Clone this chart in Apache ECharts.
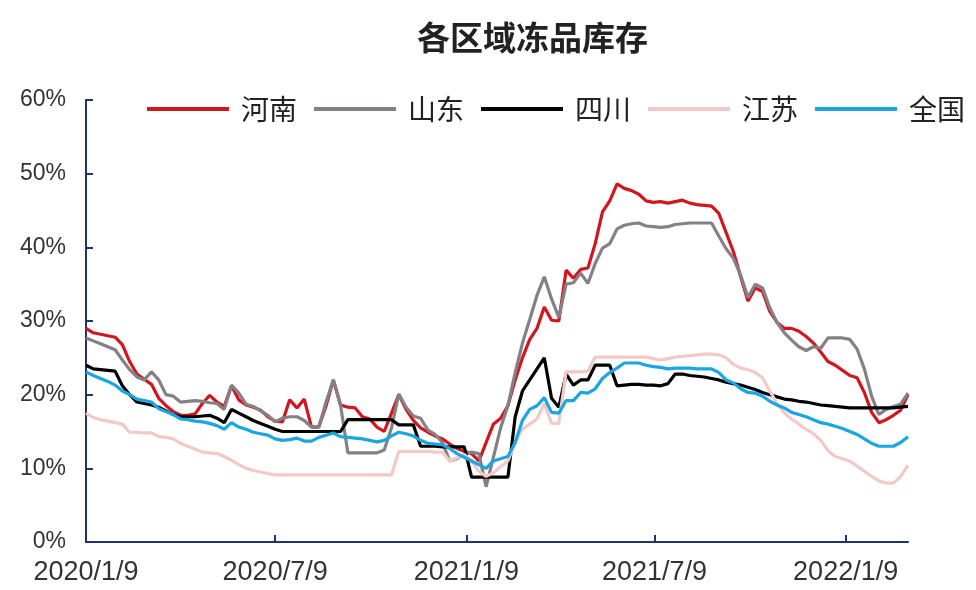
<!DOCTYPE html>
<html><head><meta charset="utf-8">
<script src="https://cdn.jsdelivr.net/npm/echarts@6/dist/echarts.min.js"></script>
<style>html,body{margin:0;padding:0;background:#fff}#c{width:976px;height:590px}</style>
</head><body><div id="c"></div>
<script>
const seriesNames = ['河南','山东','四川','江苏','全国'];
const startDate = '2020-01-09';
const tickLabels = ['2020/1/9','2020/7/9','2021/1/9','2021/7/9','2022/1/9'];
const yTicks = [0,10,20,30,40,50,60];

const henan = [29.0,28.4,28.2,28.0,27.8,26.8,24.5,22.8,22.1,21.4, 19.5,18.5,17.7,17.2,17.2,17.4,18.8,19.9,19.0,18.4, 21.2,19.3,18.6,18.3,17.9,17.0,16.4,16.3,19.3,18.2, 19.4,15.6,15.6,18.5,22.0,18.6,18.3,18.2,17.0,16.7, 15.6,15.0,17.5,20.0,18.0,16.5,15.5,14.9,14.4,14.0, 13.3,12.7,12.3,12.0,11.0,13.5,16.0,16.8,18.5,22.0, 25.0,27.5,29.0,31.9,30.1,30.0,36.9,35.8,37.0,37.2, 40.5,44.8,46.3,48.6,48.0,47.7,47.2,46.3,46.1,46.2, 46.0,46.2,46.4,46.0,45.8,45.7,45.6,44.6,42.0,39.4, 36.0,32.7,34.5,34.0,31.3,29.8,29.0,29.0,28.6,27.9, 27.0,25.8,24.5,24.0,23.3,22.6,22.3,20.3,17.6,16.2, 16.6,17.2,17.9,20.0];
const shandong = [27.7,27.3,26.9,26.5,26.1,24.7,23.4,22.4,22.0,23.1, 22.0,20.0,19.8,19.0,19.1,19.2,19.1,18.9,18.8,18.0, 21.3,20.2,18.7,18.4,17.8,17.2,16.3,16.8,17.0,17.0, 16.5,15.6,15.6,19.0,22.0,18.5,12.1,12.1,12.1,12.1, 12.1,12.5,15.5,20.1,18.3,17.1,16.8,15.2,14.6,13.5, 11.0,11.3,11.9,12.2,12.0,7.5,11.5,15.5,18.5,23.0, 27.0,30.2,33.5,36.0,33.0,30.5,35.0,35.2,36.5,35.1, 37.8,39.9,40.5,42.5,43.0,43.2,43.3,42.9,42.8,42.7, 42.8,43.1,43.2,43.3,43.3,43.3,43.3,41.5,39.8,38.5, 36.2,33.2,35.0,34.5,31.8,29.8,28.4,27.4,26.5,26.0, 26.5,26.3,27.7,27.7,27.7,27.5,26.2,23.5,19.8,17.3, 18.0,18.4,18.7,20.2];
const sichuan = [24.0,23.5,23.4,23.3,23.2,21.2,20.0,19.0,18.8,18.6, 18.3,17.8,17.3,17.0,17.0,17.0,17.1,17.2,16.8,16.2, 18.0,17.5,17.0,16.5,16.1,15.7,15.3,15.0,15.0,15.0, 15.0,15.0,15.0,15.0,15.0,15.0,16.6,16.6,16.6,16.6, 16.6,16.6,16.6,15.9,15.9,15.9,13.0,13.0,13.0,12.9, 12.9,12.9,12.9,8.8,8.8,8.8,8.8,8.8,8.8,17.0, 20.5,22.0,23.5,25.0,19.5,18.3,22.8,21.3,22.0,22.0, 24.0,24.0,24.0,21.2,21.3,21.4,21.4,21.3,21.3,21.2, 21.5,22.8,22.8,22.6,22.5,22.4,22.2,22.0,21.7,21.5, 21.3,21.0,20.7,20.3,20.0,19.7,19.4,19.3,19.1,19.0, 18.8,18.6,18.5,18.4,18.3,18.2,18.2,18.2,18.2,18.2, 18.2,18.2,18.3,18.4];
const jiangsu = [17.5,16.9,16.6,16.4,16.2,16.0,14.9,14.9,14.8,14.8, 14.3,14.2,14.0,13.4,13.0,12.6,12.2,12.1,12.0,11.6, 11.1,10.5,10.0,9.7,9.5,9.3,9.1,9.1,9.1,9.1, 9.1,9.1,9.1,9.1,9.1,9.1,9.1,9.1,9.1,9.1, 9.1,9.1,9.1,12.3,12.3,12.3,12.3,12.3,12.2,12.2, 11.0,11.4,11.9,11.0,9.6,8.9,9.4,10.2,11.0,13.5, 15.3,16.0,16.7,18.8,16.1,16.1,23.1,23.1,23.1,23.2, 25.1,25.1,25.1,25.1,25.1,25.1,25.1,25.1,24.9,24.7, 24.9,25.1,25.2,25.3,25.4,25.5,25.5,25.4,25.0,24.1, 23.6,23.4,23.0,22.3,20.5,18.8,17.5,16.7,16.0,15.3, 14.7,13.8,12.4,11.6,11.3,11.0,10.3,9.6,8.9,8.3, 8.0,8.0,8.9,10.4];
const quanguo = [23.1,22.6,22.2,21.8,21.3,20.5,20.0,19.4,19.2,19.0, 18.1,17.7,17.3,16.7,16.6,16.4,16.3,16.1,15.8,15.3, 16.2,15.6,15.3,14.9,14.7,14.5,14.0,13.8,13.9,14.1, 13.7,13.7,14.2,14.5,14.8,14.3,14.2,14.1,14.0,13.8, 13.6,13.8,14.4,14.9,14.7,14.4,13.8,13.4,13.3,13.2, 12.7,12.0,11.5,11.0,10.5,10.0,11.0,11.3,11.6,13.5, 16.5,18.0,18.5,19.6,17.6,17.5,19.2,19.2,20.3,20.2, 20.8,22.2,23.0,23.6,24.3,24.3,24.3,24.0,23.8,23.7, 23.5,23.6,23.6,23.6,23.5,23.5,23.5,23.0,22.0,21.6, 20.8,20.3,20.2,19.8,19.1,18.6,18.2,17.6,17.3,17.0, 16.6,16.2,16.0,15.7,15.4,15.0,14.6,14.0,13.4,13.0, 13.0,13.0,13.5,14.3];

const colors = ['#D2161E','#858085','#000000','#F3C9C8','#1AA5E3'];
const DAY = 86400000;
function parseYMD(s){const p=s.split(/[-\/]/).map(Number);return Date.UTC(p[0],p[1]-1,p[2]);}
const t0 = parseYMD(startDate);
// x position = days since start date (weekly observations)
const dayIdx = henan.map((_, i) => i * 7);
const tickDays = tickLabels.map(s => Math.round((parseYMD(s) - t0) / DAY));
function labelFor(v){const k = tickDays.indexOf(Math.round(v)); return k >= 0 ? tickLabels[k] : '';}

const allData = [henan, shandong, sichuan, jiangsu, quanguo];
const axisColor = '#1F3468';
const chart = echarts.init(document.getElementById('c'), null, {renderer:'canvas'});
chart.setOption({
  animation:false,
  backgroundColor:'#fff',
  title:{text:'各区域冻品库存', left:412, top:16,
    textStyle:{fontSize:33, fontWeight:'bold', color:'#222', fontFamily:'"Noto Sans CJK SC", sans-serif'}},
  legend:{data:seriesNames, left:142, top:90, icon:'rect', itemWidth:82, itemHeight:4, itemGap:17,
    textStyle:{fontSize:28, color:'#222', fontFamily:'"Noto Sans CJK SC", sans-serif', padding:[0,0,0,7]}},
  grid:{left:86, right:68, top:100, bottom:48, containLabel:false},
  xAxis:{type:'value', min:dayIdx[0], max:dayIdx[dayIdx.length-1],
    axisLine:{lineStyle:{color:axisColor, width:2}},
    axisTick:{show:true, inside:true, length:7, customValues:tickDays, lineStyle:{color:axisColor, width:2}},
    axisLabel:{customValues:tickDays, formatter:(v)=>labelFor(v), fontSize:27, color:'#333', margin:17,
      fontFamily:'"Liberation Sans", Arial, sans-serif'},
    splitLine:{show:false}},
  yAxis:{type:'value', min:yTicks[0], max:yTicks[yTicks.length-1], interval:10,
    axisLine:{show:true, lineStyle:{color:axisColor, width:2}},
    axisTick:{show:true, inside:true, length:7, lineStyle:{color:axisColor, width:2}},
    axisLabel:{formatter:'{value}%', fontSize:23, color:'#333', margin:20,
      fontFamily:'"Liberation Sans", Arial, sans-serif'},
    splitLine:{show:false}},
  series: seriesNames.map((n, k) => ({
    name:n, type:'line', symbol:'none', showSymbol:false, smooth:false,
    data: dayIdx.map((d, i) => [d, allData[k][i]]),
    lineStyle:{color:colors[k], width:3.2}, itemStyle:{color:colors[k]}
  }))
});
</script></body></html>
